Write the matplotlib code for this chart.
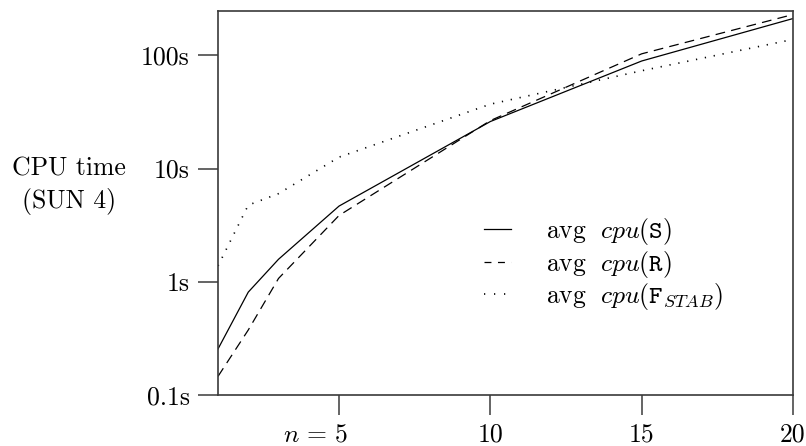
import matplotlib
matplotlib.use("Agg")
import matplotlib.pyplot as plt
import matplotlib.transforms as mtransforms
from matplotlib.lines import Line2D

# problem size and average cpu times (seconds, SUN 4)
n = [1, 2, 3, 5, 10, 15, 20]
cpu_s = [0.255, 0.81, 1.58, 4.66, 26.0, 89.0, 211.0]
cpu_r = [0.146, 0.375, 1.07, 3.85, 26.5, 103.0, 229.0]
cpu_fstab = [1.38, 4.75, 6.0, 12.6, 37.0, 73.0, 138.0]

yticks = [0.1, 1, 10, 100]
ytick_labels = ["0.1s", "1s", "10s", "100s"]
xticks = [5, 10, 15, 20]
xtick_labels = [r"$n\,=\,5$", "10", "15", "20"]

labels = [r"avg $\;cpu(\mathtt{S})$",
          r"avg $\;cpu(\mathtt{R})$",
          r"avg $\;cpu(\mathtt{F}_{STAB})$"]

plt.rcParams["font.family"] = "cmr10"
plt.rcParams["mathtext.fontset"] = "cm"
plt.rcParams["axes.unicode_minus"] = False
plt.rcParams["lines.scale_dashes"] = False

fs = 18.5
fig = plt.figure(figsize=(8.06, 4.46), dpi=100)
ax = fig.add_axes([218 / 806, 1 - 395 / 446, 575 / 806, 384 / 446])

l1, = ax.plot(n, cpu_s, color="black", lw=0.9, ls="-")
l2, = ax.plot(n, cpu_r, color="black", lw=0.9, dashes=(7, 4.5))
l3, = ax.plot(n, cpu_fstab, color="black", lw=1.2, dashes=(0.9, 5.6))

ax.set_yscale("log")
ax.set_xlim(1, 20)
ax.set_ylim(0.1, 246)
ax.set_yticks(yticks)
ax.set_yticklabels(ytick_labels)
ax.minorticks_off()
ax.set_xticks(xticks)
ax.set_xticklabels(xtick_labels)

for sp in ax.spines.values():
    sp.set_color("#3a3a3a")
    sp.set_linewidth(1.2)
ax.tick_params(axis="y", direction="out", length=14.5, width=1.1,
               color="#3a3a3a", pad=6, labelsize=fs)
ax.tick_params(axis="x", direction="out", length=14.4, width=1.1,
               color="#3a3a3a", pad=5.5, labelsize=fs)

# keep the "5" of "n = 5" centred under its tick
lab5 = ax.get_xticklabels()[0]
lab5.set_horizontalalignment("right")
lab5.set_transform(lab5.get_transform() +
                   mtransforms.ScaledTranslation(6.5 / 72, 0, fig.dpi_scale_trans))

fig.text(69 / 806, 1 - 169 / 446, "CPU time", ha="center", va="center", fontsize=fs)
fig.text(69 / 806, 1 - 201 / 446, "(SUN 4)", ha="center", va="center", fontsize=fs)

handles = [Line2D([], [], color="black", lw=0.9),
           Line2D([], [], color="black", lw=0.9, dashes=(5, 4.7)),
           Line2D([], [], color="black", lw=1.2, dashes=(0.9, 6.3))]
ax.legend(handles, labels, loc="center left", frameon=False, fontsize=fs,
          bbox_to_anchor=(484 / 806, 1 - 264 / 446), bbox_transform=fig.transFigure,
          handlelength=1.05, handletextpad=1.35, labelspacing=0.05,
          borderpad=0, borderaxespad=0)

fig.savefig("out.png", dpi=100)
